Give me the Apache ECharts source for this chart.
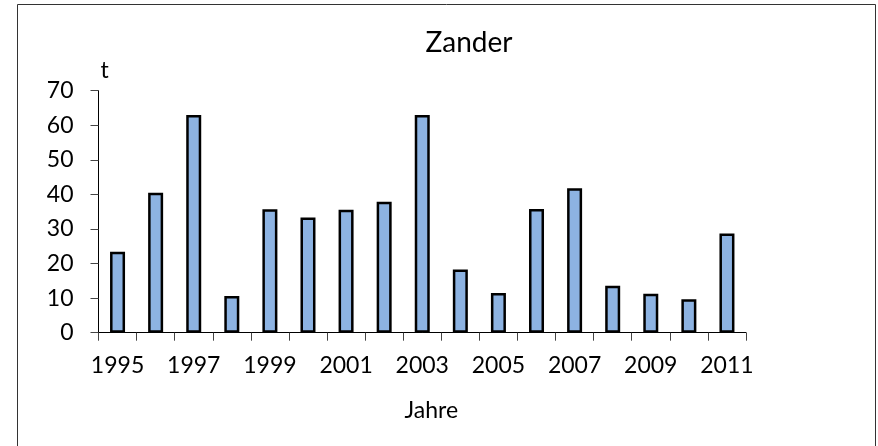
<!DOCTYPE html>
<html>
<head>
<meta charset="utf-8">
<script src="https://cdn.jsdelivr.net/npm/echarts@6/dist/echarts.min.js"></script>
<style>
    html, body { margin: 0; padding: 0; background: #fff; }
    #chart { width: 878px; height: 446px; }
</style>
</head>
<body>
<div id="chart"></div>
<script>
// Zander catch in tonnes per year
var years = ['1995', '1996', '1997', '1998', '1999', '2000', '2001', '2002', '2003',
    '2004', '2005', '2006', '2007', '2008', '2009', '2010', '2011']
var tonnes = [23.4, 40.5, 63.0, 10.6, 35.7, 33.3, 35.6, 37.9, 63.0,
    18.3, 11.5, 35.8, 41.8, 13.6, 11.3, 9.7, 28.7]

var font = 'Lato'
var chart = echarts.init(document.getElementById('chart'))

var option = {
    animation: false,
    backgroundColor: '#fff',
    title: {
        text: 'Zander',
        left: 464,
        top: 24,
        textAlign: 'center',
        textStyle: {
            fontFamily: font,
            fontSize: 28,
            fontWeight: 'normal',
            color: '#000'
        }
    },
    graphic: [{
        type: 'rect',
        shape: { x: 17.5, y: 4.5, width: 858, height: 500 },
        style: { fill: 'none', stroke: '#333', lineWidth: 1 },
        silent: true
    }],
    grid: {
        left: 98.5,
        right: 132,
        top: 90.7,
        bottom: 113.3
    },
    xAxis: {
        type: 'category',
        data: years,
        name: 'Jahre',
        nameLocation: 'middle',
        nameGap: 66,
        nameTextStyle: {
            fontFamily: font,
            fontSize: 23,
            color: '#000',
            padding: [0, 0, 0, 18]
        },
        axisLine: { lineStyle: { color: '#000', width: 1 } },
        axisTick: {
            show: true,
            alignWithLabel: false,
            interval: 0,
            length: 8,
            lineStyle: { color: '#444' }
        },
        axisLabel: {
            interval: 1,
            margin: 21,
            fontFamily: font,
            fontSize: 23,
            color: '#000'
        }
    },
    yAxis: {
        type: 'value',
        min: 0,
        max: 70,
        interval: 10,
        name: 't',
        nameLocation: 'end',
        nameGap: 9,
        nameTextStyle: {
            fontFamily: font,
            fontSize: 23,
            color: '#000',
            align: 'left',
            padding: [0, 0, 0, 2]
        },
        splitLine: { show: false },
        axisLine: { show: true, lineStyle: { color: '#000', width: 1 } },
        axisTick: { show: true, length: 8, lineStyle: { color: '#444' } },
        axisLabel: {
            margin: 25,
            fontFamily: font,
            fontSize: 23,
            color: '#000'
        }
    },
    series: [{
        type: 'bar',
        data: tonnes,
        barWidth: 15,
        itemStyle: {
            color: '#8DB3E2',
            borderColor: '#000',
            borderWidth: 2.5
        }
    }]
}

chart.setOption(option)
</script>
</body>
</html>
